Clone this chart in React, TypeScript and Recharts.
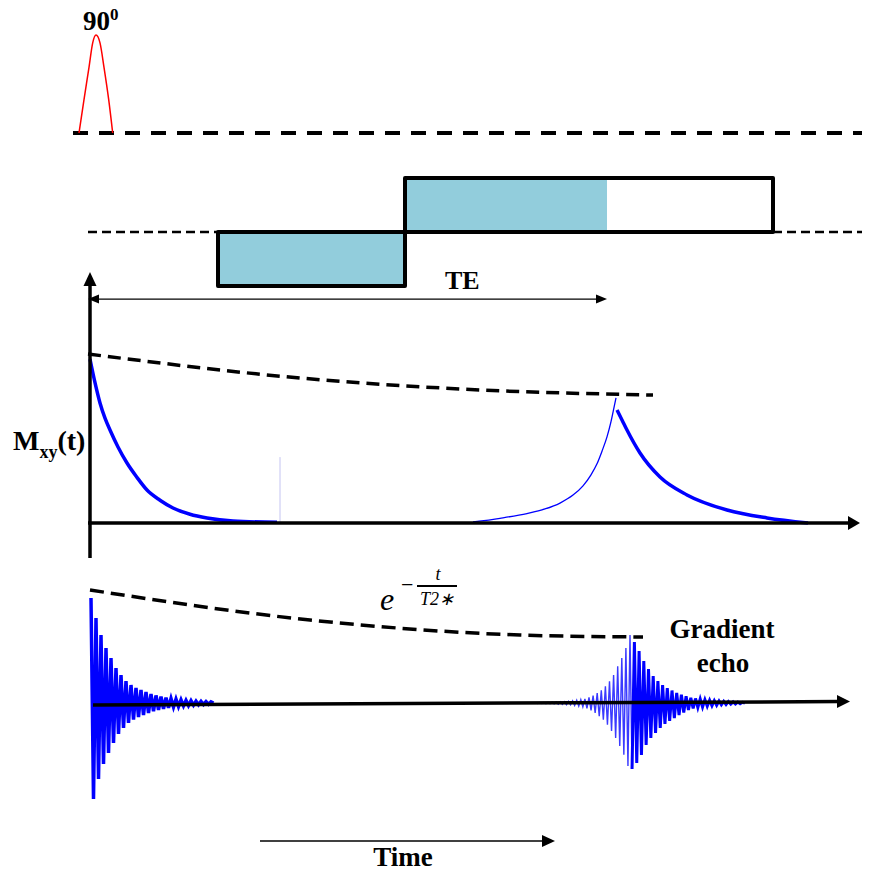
import { ComposedChart, Line, XAxis, YAxis, ReferenceArea, ReferenceLine } from 'recharts';

const W = 869;
const H = 874;

// time axis in ms, 90° pulse centred near t = 0
const timeDomain: [number, number] = [-9, 77.9];

// RF excitation pulse
const rfTimes = [-1.1, -0.6, -0.1, 0.27, 0.6, 1.0, 1.4, 1.87, 2.27];
const rfAmps = [0, 0.34, 0.67, 0.92, 1, 0.92, 0.67, 0.34, 0];

// readout gradient lobes
const lobeStarts = [12.8, 31.5];
const lobeEnds = [31.5, 68.3];
const lobeAmps = [-1, 1];
const TE = 51.7;

// Mxy(t) magnitude
const fidTimes = [0, 0.5, 1.0, 1.5, 2.0, 2.8, 3.7, 4.7, 5.7, 7.0, 8.3, 10.0, 11.7, 14.3, 18.7];
const fidMxy = [0.97, 0.83, 0.71, 0.62, 0.55, 0.45, 0.355, 0.27, 0.195, 0.135, 0.089, 0.052, 0.03, 0.012, 0.004];
const riseTimes = [38.3, 41.0, 43.7, 45.5, 47.0, 48.3, 49.3, 50.1, 50.7, 51.2, 51.7, 52.1, 52.35, 52.6];
const riseMxy = [0.006, 0.028, 0.056, 0.083, 0.118, 0.165, 0.22, 0.285, 0.35, 0.425, 0.51, 0.6, 0.67, 0.74];
const fallTimes = [52.7, 53.2, 53.7, 55.0, 57.0, 59.7, 63.7, 67.7, 71.8];
const fallMxy = [0.669, 0.61, 0.55, 0.414, 0.272, 0.166, 0.077, 0.03, 0];
const t2Times = [-0.2, 21, 37, 56.3];
const t2Mxy = [1.0, 0.858, 0.793, 0.757];

// received signal
const t2StarTimes = [0, 22, 43, 55.3];
const t2StarSig = [1.13, 0.83, 0.68, 0.66];
const fidStart = 0.1;
const fidStep = 0.25;
const fidSig = [
  1.05, -0.96, 0.85, -0.76, 0.68, -0.61, 0.55, -0.5, 0.45, -0.4, 0.35, -0.31, 0.28, -0.25, 0.22, -0.2,
  0.18, -0.165, 0.15, -0.14, 0.13, -0.12, 0.11, -0.1, 0.09, -0.083, 0.076, -0.07, 0.064, -0.058, 0.053,
  -0.049, 0.045, -0.041, 0.038, -0.035, 0.032, -0.029, 0.027, -0.025, 0.023, -0.021, 0.019, -0.017,
  0.016, -0.015, 0.014, -0.013, 0.012, 0,
];
const echoRiseStart = 43.955;
const echoRiseStep = 0.205;
const echoRiseSig = [
  0, 0.002, -0.003, 0.003, -0.004, 0.004, -0.005, 0.005, -0.006, 0.006, -0.007, 0.008, -0.009, 0.01,
  -0.011, 0.012, -0.013, 0.014, -0.016, 0.017, -0.019, 0.021, -0.024, 0.027, -0.03, 0.033, -0.038, 0.04,
  -0.053, 0.057, -0.073, 0.073, -0.1, 0.1, -0.133, 0.127, -0.167, 0.167, -0.217, 0.217, -0.28, 0.28,
  -0.35, 0.367, -0.43, 0.45, -0.517, 0.55, -0.63, 0.68, -0.66,
];
const echoFallStart = 54.205;
const echoFallStep = 0.235;
const echoFallSig = [
  -0.66, 0.61, -0.6, 0.52, -0.52, 0.42, -0.42, 0.34, -0.35, 0.27, -0.3, 0.22, -0.25, 0.18, -0.21, 0.15,
  -0.18, 0.125, -0.15, 0.1, -0.12, 0.083, -0.095, 0.067, -0.07, 0.053, -0.055, 0.045, -0.045, 0.04,
  -0.04, 0.034, -0.032, 0.028, -0.027, 0.024, -0.022, 0.02, -0.018, 0.017, -0.015, 0.014, -0.012, 0.011,
  -0.01, 0.009, -0.008, 0.007, 0,
];

const zip = (ts: number[], vs: number[]) => ts.map((t, i) => ({ t, v: vs[i] }));
const sampled = (start: number, step: number, vs: number[]) => vs.map((v, i) => ({ t: start + i * step, v }));

// y domain so that value 0 sits at zeroPx and one unit spans unitPx
const panelDomain = (zeroPx: number, unitPx: number): [number, number] => [-(H - zeroPx) / unitPx, zeroPx / unitPx];

const BLUE = '#0000ff';
const FILL = '#92cddc';

const arrow = (headLen: number, headW: number, both = false) => (p: any) => {
  const { x1, y1, x2, y2, stroke, strokeWidth } = p;
  const len = Math.hypot(x2 - x1, y2 - y1) || 1;
  const ux = (x2 - x1) / len;
  const uy = (y2 - y1) / len;
  const head = (tx: number, ty: number, dir: number) => {
    const bx = tx - dir * ux * headLen;
    const by = ty - dir * uy * headLen;
    const px = (-uy * headW) / 2;
    const py = (ux * headW) / 2;
    return `${tx},${ty} ${bx + px},${by + py} ${bx - px},${by - py}`;
  };
  return (
    <g>
      <line
        x1={both ? x1 + ux * headLen * 0.8 : x1}
        y1={both ? y1 + uy * headLen * 0.8 : y1}
        x2={x2 - ux * headLen * 0.8}
        y2={y2 - uy * headLen * 0.8}
        stroke={stroke}
        strokeWidth={strokeWidth}
      />
      <polygon points={head(x2, y2, 1)} fill={stroke} />
      {both && <polygon points={head(x1, y1, -1)} fill={stroke} />}
    </g>
  );
};

const serif = "'Liberation Serif', 'Times New Roman', serif";
const bold = { fontFamily: serif, fontWeight: 'bold' as const };
const math = { fontFamily: serif, fontStyle: 'italic' as const };

export default function App() {
  return (
    <div style={{ position: 'absolute', left: 0, top: 0, width: W, height: H, background: '#fff' }}>
      <ComposedChart width={W} height={H} margin={{ top: 0, right: 0, bottom: 0, left: 0 }}>
        <XAxis dataKey="t" type="number" domain={timeDomain} allowDataOverflow hide />
        <YAxis yAxisId="rf" type="number" domain={panelDomain(133, 98)} allowDataOverflow hide />
        <YAxis yAxisId="grad" type="number" domain={panelDomain(232, 54)} allowDataOverflow hide />
        <YAxis yAxisId="mxy" type="number" domain={panelDomain(523, 169)} allowDataOverflow hide />
        <YAxis yAxisId="sig" type="number" domain={panelDomain(703, 100)} allowDataOverflow hide />

        {/* RF */}
        <ReferenceLine
          yAxisId="rf"
          segment={[{ x: -1.7, y: 0 }, { x: 77.2, y: 0 }]}
          stroke="#000"
          strokeWidth={4}
          strokeDasharray="15 11"
        />
        <Line
          yAxisId="rf"
          data={zip(rfTimes, rfAmps)}
          dataKey="v"
          type="monotone"
          stroke="#ff0000"
          strokeWidth={1.5}
          dot={false}
          activeDot={false}
          isAnimationActive={false}
        />

        {/* gradient */}
        <ReferenceLine
          yAxisId="grad"
          segment={[{ x: -0.2, y: 0 }, { x: lobeStarts[0], y: 0 }]}
          stroke="#000"
          strokeWidth={2.5}
          strokeDasharray="9 5"
        />
        <ReferenceLine
          yAxisId="grad"
          segment={[{ x: lobeEnds[1], y: 0 }, { x: 77.2, y: 0 }]}
          stroke="#000"
          strokeWidth={2.5}
          strokeDasharray="9 5"
        />
        <ReferenceArea
          yAxisId="grad"
          x1={lobeStarts[1]}
          x2={TE}
          y1={0}
          y2={lobeAmps[1]}
          fill={FILL}
          fillOpacity={1}
          stroke="none"
        />
        {lobeStarts.map((s, i) => (
          <ReferenceArea
            key={i}
            yAxisId="grad"
            x1={s}
            x2={lobeEnds[i]}
            y1={0}
            y2={lobeAmps[i]}
            fill={i === 0 ? FILL : 'none'}
            fillOpacity={1}
            stroke="#000"
            strokeWidth={4}
            strokeLinejoin="round"
          />
        ))}

        {/* Mxy panel */}
        <ReferenceLine
          yAxisId="mxy"
          segment={[{ x: -0.2, y: 1.325 }, { x: TE, y: 1.325 }]}
          stroke="#000"
          strokeWidth={1.3}
          shape={arrow(11, 9, true)}
        />
        <ReferenceLine
          yAxisId="mxy"
          segment={[{ x: 19, y: 0 }, { x: 19, y: 0.39 }]}
          stroke="#c4c4f2"
          strokeWidth={1}
        />
        <Line
          yAxisId="mxy"
          data={zip(t2Times, t2Mxy)}
          dataKey="v"
          type="monotone"
          stroke="#000"
          strokeWidth={3.5}
          strokeDasharray="13 7"
          dot={false}
          activeDot={false}
          isAnimationActive={false}
        />
        <Line
          yAxisId="mxy"
          data={zip(fidTimes, fidMxy)}
          dataKey="v"
          type="monotone"
          stroke={BLUE}
          strokeWidth={3.5}
          dot={false}
          activeDot={false}
          isAnimationActive={false}
        />
        <Line
          yAxisId="mxy"
          data={zip(riseTimes, riseMxy)}
          dataKey="v"
          type="monotone"
          stroke={BLUE}
          strokeWidth={1.3}
          dot={false}
          activeDot={false}
          isAnimationActive={false}
        />
        <Line
          yAxisId="mxy"
          data={zip(fallTimes, fallMxy)}
          dataKey="v"
          type="monotone"
          stroke={BLUE}
          strokeWidth={3.5}
          dot={false}
          activeDot={false}
          isAnimationActive={false}
        />
        <ReferenceLine
          yAxisId="mxy"
          segment={[{ x: -0.2, y: 0 }, { x: 77, y: 0 }]}
          stroke="#000"
          strokeWidth={3.5}
          shape={arrow(12, 14)}
        />
        <ReferenceLine
          yAxisId="mxy"
          segment={[{ x: 0, y: -0.207 }, { x: 0, y: 1.485 }]}
          stroke="#000"
          strokeWidth={3.5}
          shape={arrow(14, 13)}
        />

        {/* signal panel */}
        <Line
          yAxisId="sig"
          data={zip(t2StarTimes, t2StarSig)}
          dataKey="v"
          type="monotone"
          stroke="#000"
          strokeWidth={3.5}
          strokeDasharray="14 7"
          dot={false}
          activeDot={false}
          isAnimationActive={false}
        />
        <Line
          yAxisId="sig"
          data={sampled(fidStart, fidStep, fidSig)}
          dataKey="v"
          type="linear"
          stroke={BLUE}
          strokeWidth={3.5}
          dot={false}
          activeDot={false}
          isAnimationActive={false}
        />
        <Line
          yAxisId="sig"
          data={sampled(echoRiseStart, echoRiseStep, echoRiseSig)}
          dataKey="v"
          type="linear"
          stroke="#3a3aff"
          strokeWidth={1.4}
          dot={false}
          activeDot={false}
          isAnimationActive={false}
        />
        <Line
          yAxisId="sig"
          data={sampled(echoFallStart, echoFallStep, echoFallSig)}
          dataKey="v"
          type="linear"
          stroke={BLUE}
          strokeWidth={3}
          dot={false}
          activeDot={false}
          isAnimationActive={false}
        />
        <ReferenceLine
          yAxisId="sig"
          segment={[{ x: 0.3, y: -0.02 }, { x: 76, y: 0.015 }]}
          stroke="#000"
          strokeWidth={3.5}
          shape={arrow(13, 13)}
        />
        <ReferenceLine
          yAxisId="sig"
          segment={[{ x: 17, y: -1.38 }, { x: 46.5, y: -1.38 }]}
          stroke="#000"
          strokeWidth={1.5}
          shape={arrow(13, 12)}
        />
      </ComposedChart>

      <svg width={W} height={H} style={{ position: 'absolute', left: 0, top: 0, pointerEvents: 'none' }}>
        <text x={83} y={30} fontSize={27} style={bold}>
          90<tspan fontSize={17} dy={-10}>0</tspan>
        </text>
        <text x={445} y={289} fontSize={26} style={bold}>
          TE
        </text>
        <text x={13} y={450} fontSize={28} style={bold}>
          M<tspan fontSize={18} dy={8}>xy</tspan>
          <tspan dy={-8}>(t)</tspan>
        </text>
        <text x={722} y={638} fontSize={27} textAnchor="middle" style={bold}>
          Gradient
        </text>
        <text x={723} y={672} fontSize={27} textAnchor="middle" style={bold}>
          echo
        </text>
        <text x={403} y={866} fontSize={27} textAnchor="middle" style={bold}>
          Time
        </text>
        <text x={380} y={610} fontSize={32} style={math}>
          e
        </text>
        <text x={401} y={592} fontSize={22} style={{ fontFamily: serif }}>
          −
        </text>
        <text x={438} y={580} fontSize={18} textAnchor="middle" style={math}>
          t
        </text>
        <line x1={417} y1={586} x2={457} y2={586} stroke="#000" strokeWidth={2} />
        <text x={437} y={605} fontSize={18} textAnchor="middle" style={math}>
          T2∗
        </text>
      </svg>
    </div>
  );
}
